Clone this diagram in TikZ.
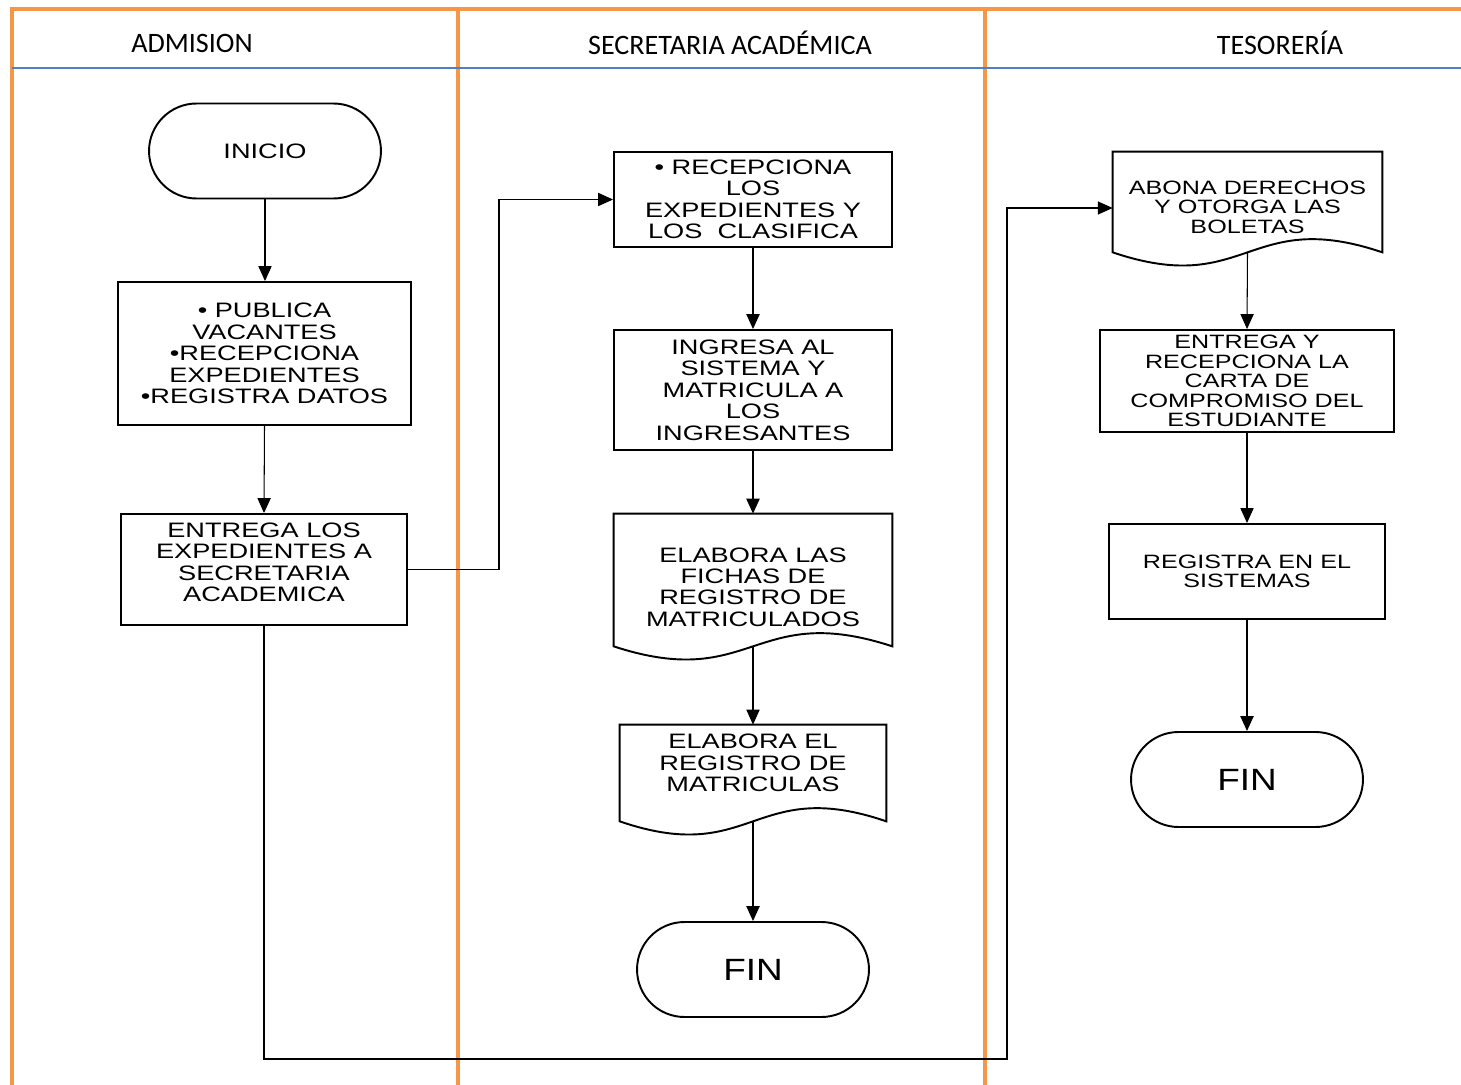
\documentclass[tikz,border=0pt]{standalone}
\usepackage{fontspec}
\usetikzlibrary{arrows.meta,shapes.misc}
\newfontfamily\boxfont[FakeStretch=1.3]{Liberation Sans}
\newfontfamily\finfont[FakeStretch=1.2]{Liberation Sans}
\newfontfamily\headfont{Carlito}
\definecolor{laneorange}{RGB}{247,150,70}
\definecolor{headblue}{RGB}{79,129,189}

\begin{document}
\begin{tikzpicture}[x=0.02cm, y=-0.02cm,
    lane/.style={laneorange, line width=2.8pt},
    head/.style={font=\headfont\fontsize{16}{18}\selectfont},
    txt/.style={inner sep=0pt, align=center,
      font=\boxfont\fontsize{11.9}{12.2}\selectfont},
    ttxt/.style={txt, font=\boxfont\fontsize{11}{11.1}\selectfont},
    proc/.style={draw, line width=1.1pt, txt},
    tproc/.style={draw, line width=1.1pt, ttxt},
    doc/.style={inner sep=0pt},
    term/.style={draw, rounded rectangle, line width=1.1pt, inner sep=0pt,
      minimum width=4.64cm, minimum height=1.9cm},
    flow/.style={line width=0.9pt, -{Triangle[length=8.5pt,width=7.5pt]}},
    conn/.style={line width=0.6pt, -{Triangle[length=8.5pt,width=7.5pt]}}]

  \useasboundingbox (0,0) rectangle (1461,1085);

  \draw[lane] (12,1085) -- (12,9) -- (1461,9);
  \draw[lane] (458,9) -- (458,1085);
  \draw[lane] (985,9) -- (985,1085);
  \draw[headblue, line width=1.2pt] (12,68) -- (1461,68);

  \node[head] (hadm) at (192,43) {ADMISION};
  \node[head] (hsec) at (730,43) {SECRETARIA ACADÉMICA};
  \node[head] (htes) at (1280,43) {TESORERÍA};

  \node[term, font=\boxfont\fontsize{11.9}{12.2}\selectfont] (inicio) at (265,151) {INICIO};
  \node[proc, minimum width=5.86cm, minimum height=2.86cm] (publica) at (264.5,353.5)
    {• PUBLICA\\VACANTES\\•RECEPCIONA\\EXPEDIENTES\\•REGISTRA DATOS};
  \node[draw, line width=1.1pt, doc, minimum width=5.72cm, minimum height=2.22cm,
    label={[txt, yshift=0.14cm]center:{ENTREGA LOS\\EXPEDIENTES A\\SECRETARIA\\ACADEMICA}}]
    (entrega) at (264,569.5) {};

  \node[proc, minimum width=5.56cm, minimum height=1.9cm] (recep) at (753,199.5)
    {• RECEPCIONA\\LOS\\EXPEDIENTES Y\\LOS~~CLASIFICA};
  \node[proc, minimum width=5.56cm, minimum height=2.4cm] (ingresa) at (753,390)
    {INGRESA AL\\SISTEMA Y\\MATRICULA A\\LOS\\INGRESANTES};
  \node[doc, minimum width=5.56cm, minimum height=2.64cm,
    label={[txt, yshift=-0.14cm]center:{ELABORA LAS\\FICHAS DE\\REGISTRO DE\\MATRICULADOS}}]
    (fichas) at (753,580) {};
  \node[doc, minimum width=5.32cm, minimum height=1.92cm,
    label={[txt, yshift=0.2cm]center:{ELABORA EL\\REGISTRO DE\\MATRICULAS}}]
    (registro) at (753,773) {};
  \node[term, font=\finfont\fontsize{17.5}{18}\selectfont] (fin1) at (753,969.5) {FIN};

  \node[doc, minimum width=5.38cm, minimum height=2cm,
    label={[ttxt, yshift=-0.1cm]center:{ABONA DERECHOS\\Y OTORGA LAS\\BOLETAS}}]
    (abona) at (1247.5,202) {};
  \node[tproc, minimum width=5.88cm, minimum height=2.04cm] (carta) at (1247,381)
    {ENTREGA Y\\RECEPCIONA LA\\CARTA DE\\COMPROMISO DEL\\ESTUDIANTE};
  \node[tproc, minimum width=5.52cm, minimum height=1.9cm] (registra) at (1247,571.5)
    {REGISTRA EN EL\\SISTEMAS};
  \node[term, font=\finfont\fontsize{17.5}{18}\selectfont] (fin2) at (1247,779.5) {FIN};

  \foreach \d in {fichas,registro,abona}
    \draw[line width=1.1pt] (\d.south east) -- (\d.north east) -- (\d.north west)
      -- (\d.south west) .. controls ([yshift=-26pt]\d.south) and ([yshift=26pt]\d.south) .. cycle;

  \draw[conn] (inicio.south) -- (inicio.south |- publica.north);
  \draw[conn] (publica.south) -- (entrega.north);
  \draw[flow] (recep.south) -- (ingresa.north);
  \draw[flow] (ingresa.south) -- (fichas.north);
  \draw[conn] (fichas.south) -- (registro.north);
  \draw[flow] (registro.south) -- (fin1.north);
  \draw[conn] (abona.south) -- (carta.north);
  \draw[conn] (carta.south) -- (registra.north);
  \draw[flow] (registra.south) -- (fin2.north);

  \coordinate (up1) at (499,199.5);
  \draw[conn] (entrega.east) -| (up1) -- (recep.west);
  \coordinate (low) at (1007,1059);
  \coordinate (up2) at (1007,208);
  \draw[conn] (entrega.south) |- (low) -- (up2) -- (up2 -| abona.west);

\end{tikzpicture}
\end{document}
